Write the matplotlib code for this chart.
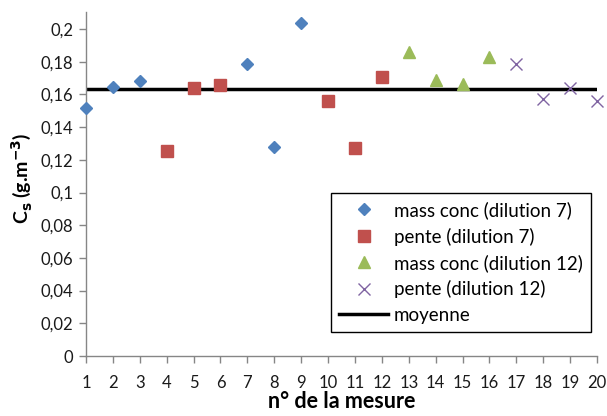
import matplotlib
matplotlib.use("Agg")
import matplotlib.pyplot as plt

plt.rcParams['font.family'] = ['Lato', 'DejaVu Sans']

x_blue = [1, 2, 3, 7, 8, 9]
y_blue = [0.1515, 0.1647, 0.1682, 0.1786, 0.128, 0.2037]
x_red = [4, 5, 6, 10, 11, 12]
y_red = [0.1256, 0.1639, 0.1659, 0.1558, 0.127, 0.1708]
x_green = [13, 14, 15, 16]
y_green = [0.1857, 0.1688, 0.1664, 0.1831]
x_purple = [17, 18, 19, 20]
y_purple = [0.1786, 0.1574, 0.1637, 0.1562]
mean_x = [1, 20]
mean_y = [0.1631, 0.1631]

y_ticks = [0, 0.02, 0.04, 0.06, 0.08, 0.1, 0.12, 0.14, 0.16, 0.18, 0.2]
y_ticklabels = ['0', '0,02', '0,04', '0,06', '0,08', '0,1', '0,12', '0,14', '0,16', '0,18', '0,2']
x_ticks = list(range(1, 21))

fig = plt.figure(figsize=(6.07, 4.16), dpi=100)
ax = fig.add_axes([0.1417, 0.1442, 0.8418, 0.8277])

ax.plot(x_blue, y_blue, linestyle='none', marker='D', markersize=6.5, color='#4F81BD',
        label='mass conc (dilution 7)', clip_on=False, zorder=3)
ax.plot(x_red, y_red, linestyle='none', marker='s', markersize=8, color='#C0504D',
        label='pente (dilution 7)', clip_on=False, zorder=3)
ax.plot(x_green, y_green, linestyle='none', marker='^', markersize=9, color='#9BBB59',
        label='mass conc (dilution 12)', clip_on=False, zorder=3)
ax.plot(x_purple, y_purple, linestyle='none', marker='x', markersize=9, markeredgewidth=1.0,
        color='#8064A2', label='pente (dilution 12)', clip_on=False, zorder=3)
ax.plot(mean_x, mean_y, color='black', linewidth=2.5, label='moyenne', zorder=2)

ax.set_xlim(1, 20)
ax.set_ylim(0, 0.2106)
ax.set_xticks(x_ticks)
ax.set_xticklabels([str(v) for v in x_ticks])
ax.set_yticks(y_ticks)
ax.set_yticklabels(y_ticklabels)

for s in ['top', 'right']:
    ax.spines[s].set_visible(False)
for s in ['left', 'bottom']:
    ax.spines[s].set_color('#868686')
    ax.spines[s].set_linewidth(1.0)
ax.tick_params(axis='both', direction='out', length=5, width=1.0, color='#868686',
               labelsize=12, labelcolor='#1a1a1a')
ax.tick_params(axis='x', pad=9)
ax.tick_params(axis='y', pad=4)

ax.set_xlabel('n° de la mesure', fontsize=15.5, fontweight='bold', labelpad=0)
ax.set_ylabel('C$_\\mathbf{s}$ (g.m$^\\mathbf{-3}$)', fontsize=14, fontweight='bold',
              va='center', ha='center')
ax.yaxis.set_label_coords((22 - 86) / (0.8418 * 607), (356 - 178) / (0.8277 * 416))

leg = ax.legend(loc='upper left', bbox_to_anchor=(330.7 / 607, 1 - 192.7 / 416),
                bbox_transform=fig.transFigure, fancybox=False, framealpha=1,
                edgecolor='black', fontsize=13.5, borderpad=0.45, labelspacing=0.45,
                handlelength=2.6, handletextpad=0.3, borderaxespad=0)
leg.get_frame().set_linewidth(1.0)

fig.savefig('out.png', dpi=100)
